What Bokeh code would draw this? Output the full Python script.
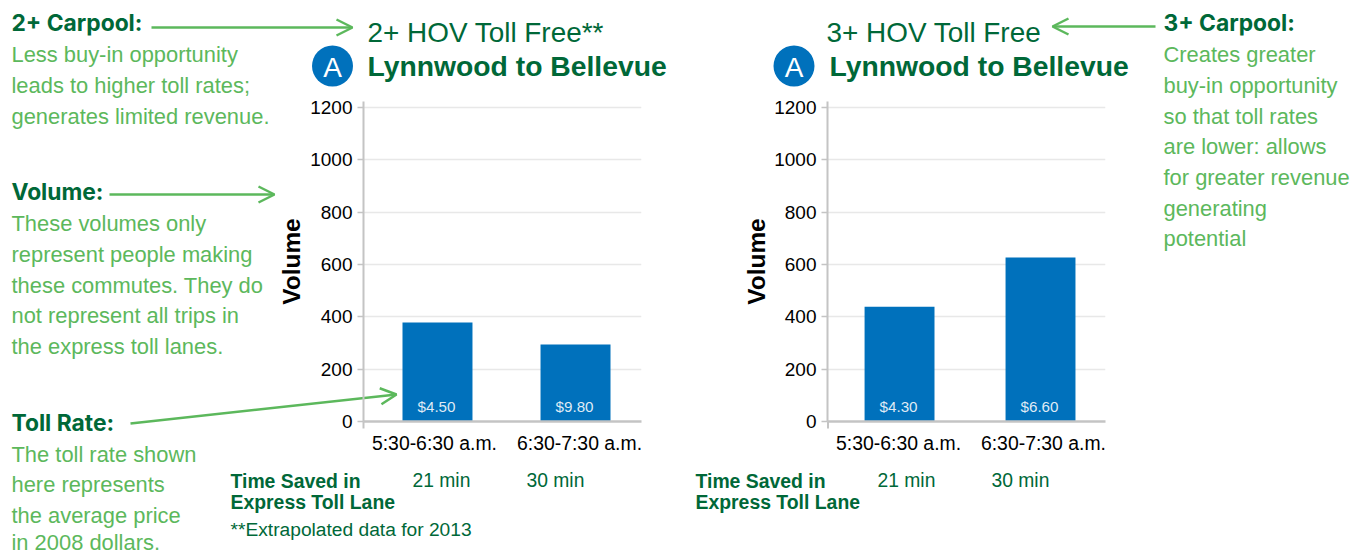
from bokeh.plotting import figure
from bokeh.layouts import row
from bokeh.embed import file_html
from bokeh.resources import INLINE
from bokeh.core.properties import value
from bokeh.models import Range1d, FixedTicker, Label, Arrow, OpenHead, GridBox

slots = ["5:30-6:30 a.m.", "6:30-7:30 a.m."]
volume_2 = [378, 294]
volume_3 = [439, 627]
rates_2 = ["$4.50", "$9.80"]
rates_3 = ["$4.30", "$6.60"]
saved_2 = ["21 min", "30 min"]
saved_3 = ["21 min", "30 min"]
y_ticks = [0, 200, 400, 600, 800, 1000, 1200]
note_2p_head = "2+ Carpool:"
note_2p = ["Less buy-in opportunity", "leads to higher toll rates;", "generates limited revenue."]
note_vol_head = "Volume:"
note_vol = ["These volumes only", "represent people making", "these commutes. They do",
            "not represent all trips in", "the express toll lanes."]
note_rate_head = "Toll Rate:"
note_rate = ["The toll rate shown", "here represents", "the average price", "in 2008 dollars."]
note_3p_head = "3+ Carpool:"
note_3p = ["Creates greater", "buy-in opportunity", "so that toll rates", "are lower: allows",
           "for greater revenue", "generating", "potential"]

DARK = "#006838"
LIGHT = "#5cb85c"
BLUE = "#0071bc"
GREY = "#c4c4c4"
FONT = "Liberation Sans"
HEAVY = "Inter"
W, H = 1363, 554
TOP, FH = 101, 320


def chart(left, fw, right, tick_xs, xstart, xend, bar_w, vals, rates, label_standoff):
    xs = [0, 1]
    p = figure(width=left + fw + right, height=H, output_backend="svg", toolbar_location=None,
               x_range=Range1d(xstart, xend), y_range=Range1d(0, 1223),
               min_border_left=left, min_border_right=right, min_border_top=TOP,
               min_border_bottom=H - TOP - FH, frame_width=fw, frame_height=FH,
               outline_line_color=None, background_fill_color=None, border_fill_color=None)
    p.vbar(x=xs, top=vals, width=bar_w, bottom=0, color=BLUE, line_color=None)
    p.text(x=xs, y=[0, 0], text=rates, text_font=value(FONT), text_font_size="15.2px",
           text_color="#dfeaf5", text_align="center", text_baseline="middle", x_offset=-1, y_offset=-15)
    p.xgrid.visible = False
    p.ygrid.ticker = FixedTicker(ticks=y_ticks)
    p.ygrid.grid_line_color = "#e8e8e8"
    p.ygrid.grid_line_width = 1.5
    p.yaxis.ticker = FixedTicker(ticks=y_ticks)
    p.yaxis.minor_tick_line_color = None
    p.yaxis.major_tick_in = 0
    p.yaxis.major_tick_out = 6
    p.yaxis.major_tick_line_color = GREY
    p.yaxis.major_tick_line_width = 1.5
    p.yaxis.axis_line_color = GREY
    p.yaxis.axis_line_width = 2
    p.yaxis.major_label_text_font = FONT
    p.yaxis.major_label_text_font_size = "19px"
    p.yaxis.major_label_text_color = "#000000"
    p.yaxis.major_label_standoff = 5
    p.yaxis.axis_label = "Volume"
    p.yaxis.axis_label_text_font = FONT
    p.yaxis.axis_label_text_font_style = "bold"
    p.yaxis.axis_label_text_font_size = "24.4px"
    p.yaxis.axis_label_text_color = "#000000"
    p.yaxis.axis_label_standoff = label_standoff
    p.xaxis.ticker = FixedTicker(ticks=tick_xs)
    p.xaxis.major_label_overrides = {x: s for x, s in zip(tick_xs, slots)}
    p.xaxis.major_tick_line_color = None
    p.xaxis.minor_tick_line_color = None
    p.xaxis.axis_line_color = GREY
    p.xaxis.axis_line_width = 2.5
    p.xaxis.major_label_text_font = FONT
    p.xaxis.major_label_text_font_size = "19.4px"
    p.xaxis.major_label_text_color = "#000000"
    p.xaxis.major_label_standoff = 4
    return p


# full-page layer behind the two charts: its data units are page pixels
bg = figure(width=W, height=H, output_backend="svg", toolbar_location=None,
            x_range=Range1d(0, W), y_range=Range1d(H, 0), min_border=0,
            outline_line_color=None, background_fill_color=None, border_fill_color=None,
            x_axis_location=None, y_axis_location=None)
bg.grid.visible = False


def txt(x, y, s, size, color, bold=False, font=FONT, align="left"):
    bg.add_layout(Label(x=x - 1, y=y - 1, text=s, text_font=font, text_font_size=f"{size}px", text_color=color,
                        text_font_style="bold" if bold else "normal",
                        text_align=align, text_baseline="middle"))


def arrow(x0, y0, x1, y1):
    bg.add_layout(Arrow(x_start=x0, y_start=y0, x_end=x1, y_end=y1, line_color=LIGHT, line_width=2.5,
                        end=OpenHead(size=16, line_color=LIGHT, line_width=2.5)))


def badge(cx, cy):
    bg.scatter([cx], [cy], size=41, color=BLUE, line_color=None)
    txt(cx + 1, cy + 2, "A", 28, "#ffffff", align="center")


txt(368, 32.5, "2+ HOV Toll Free**", 27.9, DARK)
txt(368, 66.5, "Lynnwood to Bellevue", 28.3, DARK, True)
badge(332, 65.5)
txt(827, 32.5, "3+ HOV Toll Free", 27.9, DARK)
txt(830, 66.5, "Lynnwood to Bellevue", 28.3, DARK, True)
badge(793.5, 65.5)

for x, y, head, lines, ys in (
    (12, 23, note_2p_head, note_2p, [54.5, 85.5, 116.5]),
    (12, 192, note_vol_head, note_vol, [223.5, 254.5, 285.5, 315.5, 346.5]),
    (12, 423, note_rate_head, note_rate, [454.5, 484.5, 515.5, 542.5]),
    (1164, 23, note_3p_head, note_3p, [54.5, 85.5, 116.5, 146.5, 177.5, 208.5, 238.5]),
):
    txt(x, y, head, 22.8, DARK, True, HEAVY)
    for s, yy in zip(lines, ys):
        txt(x, yy, s, 21.9, LIGHT)

arrow(151, 27, 352, 27)
arrow(109, 194, 274, 194)
arrow(130, 423, 396, 394)
arrow(1155, 26, 1052, 26)

for x in (231, 696):
    txt(x, 481, "Time Saved in", 19.4, DARK, True)
    txt(x, 502.5, "Express Toll Lane", 19.4, DARK, True)
for s, x in zip(saved_2, [413, 527]):
    txt(x, 481, s, 19.3, DARK)
for s, x in zip(saved_3, [878, 992]):
    txt(x, 481, s, 19.3, DARK)
txt(231, 530, "**Extrapolated data for 2013", 19.2, DARK)

# the y axis line runs a little past the zero line
bg.segment([363, 827.5], [421, 421], [363, 827.5], [428, 428], line_color=GREY, line_width=2)

p1 = chart(363, 278, 49, [-0.022, 1.029], -0.536, 1.478, 0.507, volume_2, rates_2, 2)
p2 = chart(137, 278, 258, [-0.007, 1.021], -0.511, 1.461, 0.496, volume_3, rates_3, 1)

charts = row(p1, p2, spacing=0)
root = GridBox(children=[(bg, 0, 0), (charts, 0, 0)])
open("out.html", "w").write(file_html(root, INLINE))
